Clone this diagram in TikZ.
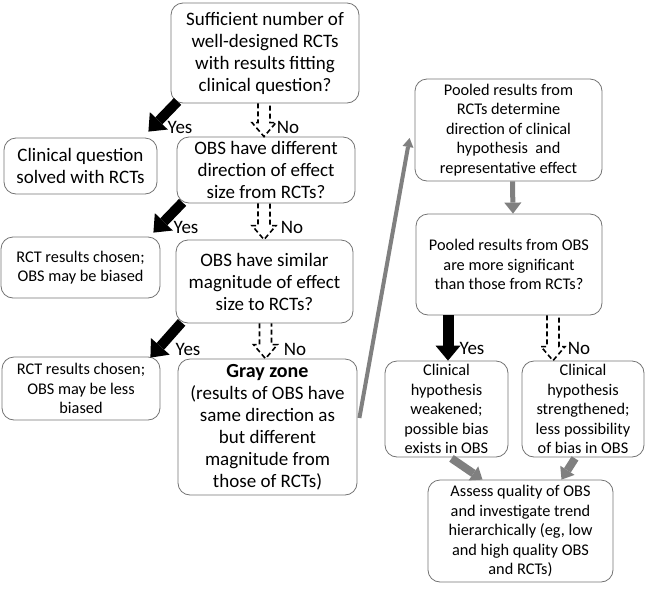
\documentclass[tikz,border=0pt]{standalone}
\usepackage{fontspec}
\setmainfont{Carlito}
\usetikzlibrary{arrows.meta}
\usetikzlibrary{calc,positioning}

\begin{document}
\begin{tikzpicture}[x=1pt, y=-1pt]
    \tikzstyle{block} = [draw=black!55, line width=0.8pt, rounded corners=12pt, align=center, inner sep=2pt, font=\fontsize{19}{22}\selectfont]
    \tikzstyle{small block} = [block, font=\fontsize{16.3}{19.5}\selectfont]
    \tikzstyle{yes line} = [draw, line width=10pt, -{Triangle[length=15pt, width=25pt, line width=0pt]}]
    \tikzstyle{no line} = [draw, dash pattern=on 5pt off 3pt, line width=1.6pt]
    \tikzstyle{gray line} = [draw, gray, line width=8pt, -{Triangle[length=11pt, width=17pt, line width=0pt]}]
    \tikzstyle{thin gray line} = [draw, gray, line width=4pt, -{Triangle[length=9pt, width=11pt, line width=0pt]}]
    \tikzstyle{answer} = [font=\fontsize{19}{22}\selectfont, inner sep=0pt]

    \def\noArrow#1#2{%
        \path [no line] let \p1=(#1), \p2=(#2) in
            (\x1-6pt,\y1) -- (\x1-6pt,\y2+14pt) -- (\x1-12pt,\y2+14pt) -- (\x1,\y2)
            -- (\x1+12pt,\y2+14pt) -- (\x1+6pt,\y2+14pt) -- (\x1+6pt,\y1);}

    \useasboundingbox (0,0) rectangle (646,590);

    \node[block] (q1) [minimum width=188pt, minimum height=100pt] at (265,53) {Sufficient number of\\well-designed RCTs\\with results fitting\\clinical question?};

    \node[block] (solved) [minimum width=153pt, minimum height=56pt] at (80.5,166) {Clinical question\\solved with RCTs};

    \node[block] (q2) [minimum width=178pt, minimum height=66pt] at (266,170) {OBS have different\\direction of effect\\size from RCTs?};

    \node[small block] (biased) [minimum width=159pt, minimum height=61pt] at (80.5,267.5) {RCT results chosen;\\OBS may be biased};

    \node[block] (q3) [minimum width=177pt, minimum height=83pt] at (264.5,281.5) {OBS have similar\\magnitude of effect\\size to RCTs?};

    \node[small block] (lessbiased) [minimum width=158pt, minimum height=63pt] at (81,388.5) {RCT results chosen;\\OBS may be less\\biased};

    \node[block] (grayzone) [minimum width=179pt, minimum height=136pt] at (267.5,427) {{\bfseries\fontsize{20}{22}\selectfont Gray zone}\\(results of OBS have\\same direction as\\but different\\magnitude from\\those of RCTs)};

    \node[small block] (pooledRCT) [minimum width=187pt, minimum height=102pt] at (508.5,130) {Pooled results from\\RCTs determine\\direction of clinical\\hypothesis\ \ and\\representative effect};

    \node[small block] (pooledOBS) [minimum width=186pt, minimum height=101pt] at (509,264.5) {Pooled results from OBS\\are more significant\\than those from RCTs?};

    \node[small block] (weak) [minimum width=123pt, minimum height=96pt] at (446.5,409) {Clinical\\hypothesis\\weakened;\\possible bias\\exists in OBS};

    \node[small block] (strong) [minimum width=122pt, minimum height=96pt] at (583,409) {Clinical\\hypothesis\\strengthened;\\less possibility\\of bias in OBS};

    \node[small block] (assess) [minimum width=185pt, minimum height=102pt] at (520.5,531) {Assess quality of OBS\\and investigate trend\\hierarchically (eg, low\\and high quality OBS\\and RCTs)};

    \path [yes line] ($(q1.south west)+(7,-2)$) -- ($(solved.north east)+(-9,-6)$);
    \path [yes line] ($(q2.south west)+(6,-1)$) -- ($(biased.north east)+(-7,-4)$);
    \path [yes line] ($(q3.south west)+(6,-1)$) -- ($(lessbiased.north east)+(-10,1)$);
    \path [yes line, line width=11pt] ($(pooledOBS.south)+(-61,0)$) -- ($(weak.north)+(1.5,0)$);

    \noArrow{$(q1.south)+(-1,0)$}{q2.north}
    \noArrow{$(q2.south)+(-2,0)$}{q3.north}
    \noArrow{$(q3.south)+(1,0)$}{grayzone.north}
    \noArrow{$(pooledOBS.south)+(44,0)$}{strong.north}

    \node[answer] (yes1) at (180,127) {Yes};
    \node[answer] (no1) at (288,127) {No};
    \node[answer] (yes2) at (186,227) {Yes};
    \node[answer] (no2) at (292,227) {No};
    \node[answer] (yes3) at (188,349) {Yes};
    \node[answer] (no3) at (295,349) {No};
    \node[answer] (yes4) at (472,348) {Yes};
    \node[answer] (no4) at (579,348) {No};

    \path [thin gray line] ($(grayzone.east)+(2,-9)$) -- ($(pooledRCT.west)+(-5,8)$);
    \path [gray line, line width=5pt] ($(pooledRCT.south)+(4,0)$) -- ($(pooledOBS.north)+(4,0)$);
    \path [gray line] ($(weak.south)+(5,1)$) -- ($(assess.north)+(-38,0)$);
    \path [gray line] ($(strong.south)+(-8,1)$) -- ($(assess.north)+(41,0)$);
\end{tikzpicture}
\end{document}
